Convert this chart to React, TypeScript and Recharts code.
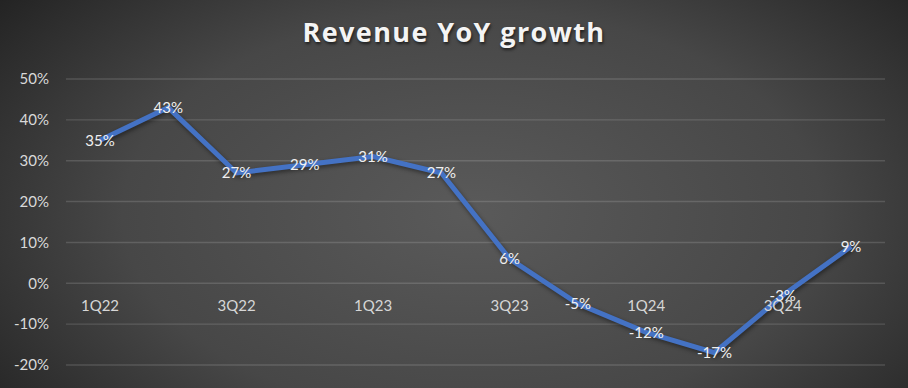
import { LineChart, Line, XAxis, YAxis, CartesianGrid, LabelList } from 'recharts';

const quarters = ['1Q22', '2Q22', '3Q22', '4Q22', '1Q23', '2Q23', '3Q23', '4Q23', '1Q24', '2Q24', '3Q24', '4Q24'];
const growth = [35, 43, 27, 29, 31, 27, 6, -5, -12, -17, -3, 9];
const yTicks = [-20, -10, 0, 10, 20, 30, 40, 50];

const data = quarters.map((q, i) => ({ q, growth: growth[i] }));

const W = 908;
const H = 388;
const M = { top: 79, right: 23, bottom: 0, left: 0 };
const X_H = 23;
const Y_MIN = -20;
const Y_MAX = 50;
const plotH = H - M.top - M.bottom - X_H;
// distance from plot bottom up to the zero line
const zeroUp = ((0 - Y_MIN) / (Y_MAX - Y_MIN)) * plotH;

const font = 'Lato, "Open Sans", sans-serif';

function QuarterTick(props: any) {
  const { x, y, payload } = props;
  return (
    <text x={x} y={y - zeroUp + 28} textAnchor="middle" fill="#d6d6d6" fontSize={15} fontFamily={font}>
      {payload.value}
    </text>
  );
}

export default function App() {
  return (
    <div
      style={{
        position: 'relative',
        width: W,
        height: H,
        background: 'radial-gradient(ellipse 70% 95% at 52% 55%, #5a5a5a 0%, #474747 55%, #2c2c2c 85%, #1e1e1e 100%)',
        overflow: 'hidden',
      }}
    >
      <style>{`body{margin:0} .recharts-line-curve{filter:drop-shadow(1px 2px 2px rgba(0,0,0,0.45))}`}</style>
      <div
        style={{
          position: 'absolute',
          top: 13,
          left: 0,
          width: W,
          textAlign: 'center',
          color: '#f4f4f4',
          fontFamily: '"Open Sans", sans-serif',
          fontWeight: 700,
          fontSize: 27,
          letterSpacing: 1.4,
          textShadow: '1px 2px 3px rgba(0,0,0,0.6)',
        }}
      >
        Revenue YoY growth
      </div>
      <LineChart width={W} height={H} data={data} margin={M} style={{ position: 'absolute', top: 0, left: 0 }}>
        <CartesianGrid vertical={false} stroke="rgba(255,255,255,0.14)" strokeWidth={1.4} />
        <XAxis
          dataKey="q"
          height={X_H}
          axisLine={false}
          tickLine={false}
          tickSize={0}
          tickMargin={0}
          interval={1}
          padding={{ left: 34, right: 34 }}
          tick={(p: any) => <QuarterTick {...p} />}
        />
        <YAxis
          width={66}
          domain={[Y_MIN, Y_MAX]}
          ticks={yTicks}
          axisLine={false}
          tickLine={false}
          tickSize={0}
          tickMargin={17}
          tickFormatter={(v) => `${v}%`}
          tick={{ fill: '#d9d9d9', fontSize: 15, fontFamily: font }}
        />
        <Line
          type="linear"
          dataKey="growth"
          stroke="#4472c4"
          strokeWidth={5}
          dot={false}
          isAnimationActive={false}
        >
          <LabelList
            dataKey="growth"
            position="center"
            formatter={(v: any) => `${v}%`}
            fill="#f0f0f0"
            fontSize={15}
            fontFamily={font}
          />
        </Line>
      </LineChart>
    </div>
  );
}
